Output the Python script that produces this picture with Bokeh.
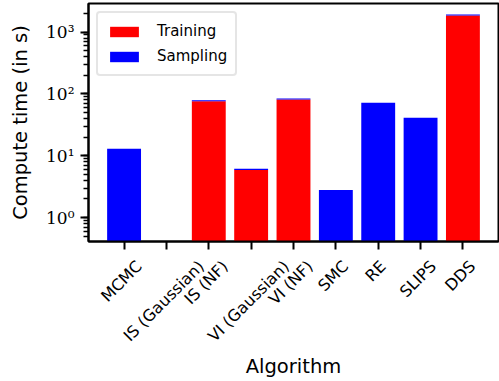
import math
import json
from bokeh.plotting import figure
from bokeh.models import (Range1d, CustomJSTickFormatter, LogTicker, FixedTicker, Legend,
                          LegendItem, LinearAxis)
from bokeh.embed import file_html
from bokeh.resources import INLINE

categories = ["MCMC", "IS (Gaussian)", "IS (NF)", "VI (Gaussian)", "VI (NF)",
              "SMC", "RE", "SLIPS", "DDS"]
training = [0, 0.2, 76, 5.9, 81, 0, 0, 0, 1850]
sampling = [13, 0.05, 3, 0.25, 3, 2.8, 72, 41, 70]

xpos = list(range(len(categories)))
base = 1e-3
train_top = [base + t for t in training]
samp_top = [tt + s for tt, s in zip(train_top, sampling)]

SANS = "DejaVu Sans"
SERIF = "DejaVu Serif"
Y_START, Y_END = 0.41, 2900
X_PAD = 0.84
W, H = 499, 381
BL, BR = 88, 1
XLAB_SIZE = 16

# approximate DejaVu Sans advance widths (em), used to centre the rotated
# tick labels under their ticks the way matplotlib does
_W = {"M": .863, "C": .698, "I": .295, "S": .635, " ": .318, "(": .390, ")": .390,
      "G": .775, "a": .613, "u": .634, "s": .521, "i": .278, "n": .634, "N": .748,
      "F": .575, "V": .684, "R": .695, "E": .632, "L": .557, "P": .603, "D": .770}


def text_w(s, size):
    return sum(_W.get(c, .6) for c in s) * size


p = figure(width=W, height=H, output_backend="svg", toolbar_location=None,
           x_range=Range1d(-X_PAD, len(categories) - 1 + X_PAD),
           y_axis_type="log", y_range=Range1d(Y_START, Y_END),
           min_border_left=BL, min_border_right=BR, min_border_top=3, min_border_bottom=140)

r_train = p.vbar(x=xpos, bottom=base, top=train_top, width=0.8,
                 fill_color="#ff0000", line_color=None)
r_samp = p.vbar(x=xpos, bottom=train_top, top=samp_top, width=0.8,
                fill_color="#0000ff", line_color=None)

p.grid.visible = False
p.outline_line_color = "black"
p.outline_line_width = 2
p.background_fill_color = "white"
p.border_fill_color = "white"

# y axis
ya = p.yaxis[0]
ya.ticker = LogTicker(num_minor_ticks=10)
ya.formatter = CustomJSTickFormatter(code="""
const sup = {'0':'\u2070','1':'\u00b9','2':'\u00b2','3':'\u00b3','4':'\u2074','5':'\u2075','6':'\u2076','7':'\u2077','8':'\u2078','9':'\u2079','-':'\u207b'};
const e = Math.round(Math.log10(tick));
return '10' + String(e).split('').map(c => sup[c]).join('');
""")
ya.axis_label = "Compute time (in s)"
ya.axis_label_text_font = SANS
ya.axis_label_text_font_style = "normal"
ya.axis_label_text_font_size = "19.5px"
ya.axis_label_text_color = "black"
ya.axis_label_standoff = 11
ya.major_label_text_font = SERIF
ya.major_label_text_font_size = "17px"
ya.major_label_text_color = "black"
ya.major_label_standoff = 6
ya.axis_line_color = "black"
ya.axis_line_width = 2
ya.major_tick_in = 0
ya.major_tick_out = 8
ya.minor_tick_in = 0
ya.minor_tick_out = 5
ya.major_tick_line_width = 2
ya.minor_tick_line_width = 1.5

# x axis: tick marks only
xa = p.xaxis[0]
xa.ticker = FixedTicker(ticks=xpos, minor_ticks=[])
xa.major_label_text_color = None
xa.major_label_text_font_size = "1px"
xa.major_label_standoff = 0
xa.axis_line_color = "black"
xa.axis_line_width = 2
xa.major_tick_in = 0
xa.major_tick_out = 8
xa.major_tick_line_width = 2
xa.minor_tick_line_color = None

# second (label-only) x axis: rotated labels, shifted so each one is centred on its tick
px_per_unit = (W - BL - BR) / (len(categories) - 1 + 2 * X_PAD)
s45 = math.sin(math.pi / 4)
asc, cap = 0.6 * XLAB_SIZE, 0.73 * XLAB_SIZE
shifts = [((text_w(c, XLAB_SIZE) / 2) * s45 - (asc - cap / 2) * s45) / px_per_unit
          for c in categories]
lab_ticks = [xi + d for xi, d in zip(xpos, shifts)]

xa2 = LinearAxis(ticker=FixedTicker(ticks=lab_ticks, minor_ticks=[]),
                 formatter=CustomJSTickFormatter(code="""
const names = %s;
const t = %s;
let k = 0;
for (let i = 1; i < t.length; i++) {
  if (Math.abs(t[i] - tick) < Math.abs(t[k] - tick)) k = i;
}
return names[k];
""" % (json.dumps(categories), json.dumps(lab_ticks))))
xa2.major_label_orientation = math.pi / 4
xa2.major_label_text_font = SANS
xa2.major_label_text_font_size = f"{XLAB_SIZE}px"
xa2.major_label_text_color = "black"
xa2.major_label_standoff = 14
xa2.axis_line_color = None
xa2.major_tick_line_color = None
xa2.minor_tick_line_color = None
xa2.major_tick_in = 0
xa2.major_tick_out = 0
xa2.minor_tick_in = 0
xa2.minor_tick_out = 0
xa2.axis_label = "Algorithm"
xa2.axis_label_text_font = SANS
xa2.axis_label_text_font_style = "normal"
xa2.axis_label_text_font_size = "19.5px"
xa2.axis_label_text_color = "black"
xa2.axis_label_standoff = 0
p.add_layout(xa2, "below")

legend = Legend(items=[LegendItem(label="Training", renderers=[r_train]),
                       LegendItem(label="Sampling", renderers=[r_samp])],
                location="top_left")
legend.margin = 8
legend.padding = 8
legend.spacing = 5
legend.glyph_width = 36
legend.glyph_height = 13
legend.label_height = 20
legend.label_standoff = 15
legend.label_text_font = SANS
legend.label_text_font_size = "15px"
legend.label_text_color = "black"
legend.border_line_color = "#cccccc"
legend.border_line_width = 2
legend.border_radius = 4
legend.background_fill_alpha = 0.8
p.add_layout(legend)

open("out.html", "w").write(file_html(p, INLINE))
